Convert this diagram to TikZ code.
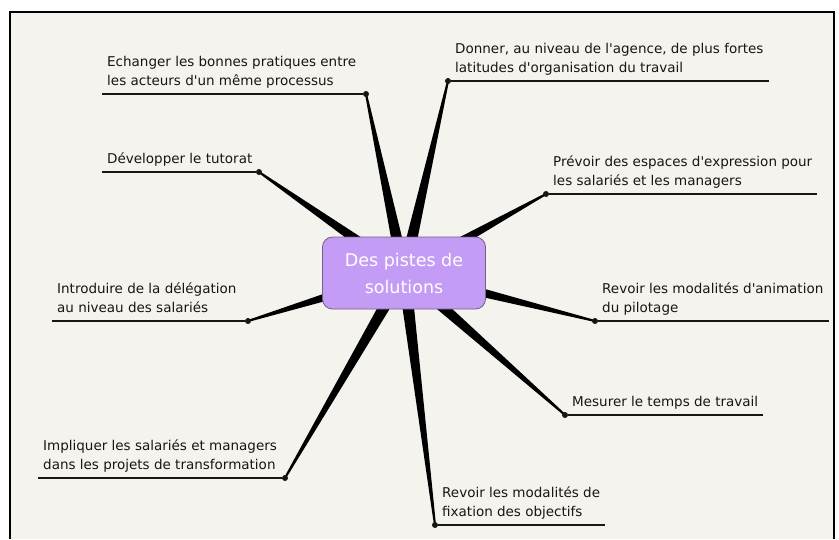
\documentclass[tikz,border=0pt]{standalone}
\usepackage{fontspec}
\setmainfont{DejaVu Sans}
\usetikzlibrary{calc}
\definecolor{paper}{RGB}{244,243,237}
\definecolor{lilac}{RGB}{197,156,245}
\definecolor{lilacborder}{RGB}{115,95,130}
\definecolor{ink}{RGB}{22,22,22}
\tikzstyle{hub} = [draw=lilacborder, fill=lilac, line width=0.8pt, rounded corners=10pt, minimum width=163pt, minimum height=72pt, align=center, text=white, font=\fontsize{17.5}{27}\selectfont]
\tikzstyle{idea} = [anchor=south west, align=left, inner xsep=5pt, inner ysep=3pt, text=ink, font=\fontsize{13.5}{18.5}\selectfont, execute at end node=\strut]
\tikzstyle{knot} = [circle, fill=ink, inner sep=0pt, minimum size=6pt]
\tikzstyle{underline} = [draw=ink, line width=1.1pt]
\pgfdeclarelayer{paper}
\pgfdeclarelayer{background}
\pgfsetlayers{paper,background,main}
\begin{document}
\begin{tikzpicture}[x=1pt, y=-1pt]
    \useasboundingbox (0,0) rectangle (839,539);

    % Place nodes
    \node [hub] (hub) at (404,273) {Des pistes de\\solutions};
    \node [knot] (k1) at (366,94) {};
    \node [knot] (k2) at (259,172) {};
    \node [knot] (k3) at (248,321) {};
    \node [knot] (k4) at (285,478) {};
    \node [knot] (k5) at (448,81) {};
    \node [knot] (k6) at (546,194) {};
    \node [knot] (k7) at (595,321) {};
    \node [knot] (k8) at (565,415) {};
    \node [knot] (k9) at (435,525) {};
    \node [idea] (echanger) at (102,94) {Echanger les bonnes pratiques entre\\les acteurs d\textquotesingle un même processus};
    \node [idea] (tutorat) at (102,172) {Développer le tutorat};
    \node [idea] (delegation) at (52,321) {Introduire de la délégation\\au niveau des salariés};
    \node [idea] (impliquer) at (38,478) {Impliquer les salariés et managers\\dans les projets de transformation};
    \node [idea] (donner) at (450,81) {Donner, au niveau de l\textquotesingle agence, de plus fortes\\latitudes d\textquotesingle organisation du travail};
    \node [idea] (prevoir) at (548,194) {Prévoir des espaces d\textquotesingle expression pour\\les salariés et les managers};
    \node [idea] (animation) at (597,321) {Revoir les modalités d\textquotesingle animation\\du pilotage};
    \node [idea] (mesurer) at (567,415) {Mesurer le temps de travail};
    \node [idea] (fixation) at (437,525) {Revoir les modalités de\\fixation des objectifs};

    % Draw edges
    \path [underline] (echanger.south west) -- (k1);
    \path [underline] (tutorat.south west) -- (k2);
    \path [underline] (delegation.south west) -- (k3);
    \path [underline] (impliquer.south west) -- (k4);
    \path [underline] (k5) -- (donner.south east);
    \path [underline] (k6) -- (prevoir.south east);
    \path [underline] (k7) -- (animation.south east);
    \path [underline] (k8) -- (mesurer.south east);
    \path [underline] (k9) -- (fixation.south east);

    % Tapered branches go behind the hub, the sheet behind everything
    \begin{pgfonlayer}{background}
        \foreach \i in {1,...,9}
            \fill [black] ($(hub.center)!6.5pt!90:(k\i)$) -- ($(k\i)!1pt!-90:(hub.center)$)
                -- ($(k\i)!1pt!90:(hub.center)$) -- ($(hub.center)!6.5pt!-90:(k\i)$) -- cycle;
    \end{pgfonlayer}
    \begin{pgfonlayer}{paper}
        \fill [paper] (10,12) rectangle (834,539);
        \draw [line width=1.2pt] (10,539) -- (10,12) -- (834,12) -- (834,539);
    \end{pgfonlayer}
\end{tikzpicture}
\end{document}
